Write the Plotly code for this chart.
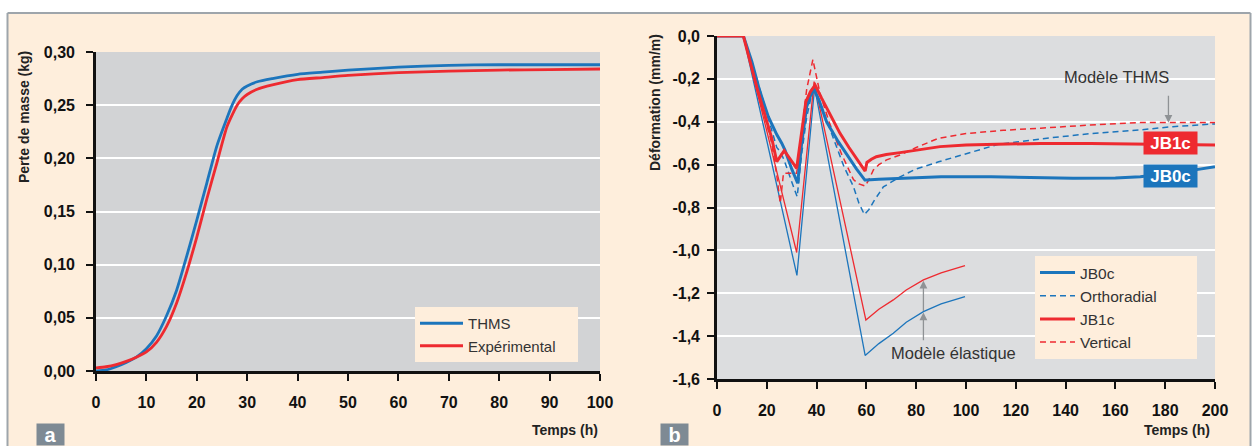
import plotly.graph_objects as go

# ---------------- Panel a data ----------------
a_time_thms = [0, 2, 4, 6, 8, 10, 12, 14, 16, 18, 20, 22, 24, 26, 27, 28, 29, 30, 32, 35, 40, 45, 50, 60, 70, 80, 90, 100]
a_thms = [0.000, 0.001, 0.004, 0.008, 0.013, 0.021, 0.033, 0.052, 0.076, 0.108, 0.142, 0.177, 0.212, 0.238, 0.250, 0.259, 0.265, 0.268, 0.272, 0.275, 0.279, 0.281, 0.283, 0.2857, 0.2875, 0.288, 0.288, 0.288]
a_time_exp = [0, 2, 4, 6, 8, 10, 12, 14, 16, 18, 20, 22, 24, 26, 28, 29, 30, 32, 35, 40, 45, 50, 60, 70, 80, 90, 100]
a_exp = [0.003, 0.004, 0.006, 0.009, 0.013, 0.018, 0.027, 0.042, 0.064, 0.093, 0.126, 0.162, 0.196, 0.230, 0.250, 0.256, 0.260, 0.265, 0.269, 0.274, 0.276, 0.278, 0.2806, 0.282, 0.283, 0.2835, 0.284]

a_xticks = [0, 10, 20, 30, 40, 50, 60, 70, 80, 90, 100]
a_xticktext = ["0", "10", "20", "30", "40", "50", "60", "70", "80", "90", "100"]
a_yticks = [0.00, 0.05, 0.10, 0.15, 0.20, 0.25, 0.30]
a_yticktext = ["0,00", "0,05", "0,10", "0,15", "0,20", "0,25", "0,30"]

# ---------------- Panel b data ----------------
b_t_jb0c = [0, 10.6, 14, 17, 20.6, 24, 26, 27.3, 30, 32.4, 34, 36, 37.5, 39, 41, 44, 48.7, 52, 56, 59.4, 60, 65, 73.5, 90, 110, 130, 143, 160, 170, 180, 190, 200]
b_jb0c = [0, 0, -0.12, -0.25, -0.376, -0.46, -0.50, -0.532, -0.62, -0.687, -0.50, -0.33, -0.28, -0.25, -0.30, -0.40, -0.493, -0.55, -0.62, -0.672, -0.672, -0.668, -0.664, -0.656, -0.657, -0.660, -0.664, -0.662, -0.656, -0.642, -0.628, -0.61]

b_t_jb1c = [0, 10.6, 16, 22, 24, 27, 32, 34, 35.7, 37.5, 39.4, 42, 46, 49.4, 53, 56, 58.8, 59.5, 60.2, 62, 64, 68, 73.5, 80, 89.6, 100, 115, 130, 150, 172, 190, 200]
b_jb1c = [0, 0, -0.24, -0.477, -0.586, -0.535, -0.617, -0.438, -0.306, -0.26, -0.229, -0.29, -0.38, -0.454, -0.52, -0.57, -0.617, -0.63, -0.59, -0.575, -0.563, -0.553, -0.544, -0.532, -0.516, -0.508, -0.503, -0.501, -0.502, -0.504, -0.508, -0.508]

b_t_ortho = [0, 10.6, 16, 22, 24, 25.5, 27, 30, 32.2, 34, 36, 38.8, 41, 44.7, 48, 51, 54.7, 57, 59.2, 61, 63, 66.8, 73.5, 80, 89, 100, 113, 130, 150, 170, 183, 200]
b_ortho = [0, 0, -0.2, -0.44, -0.52, -0.54, -0.58, -0.68, -0.75, -0.55, -0.38, -0.23, -0.30, -0.41, -0.52, -0.61, -0.70, -0.78, -0.833, -0.81, -0.77, -0.704, -0.657, -0.62, -0.587, -0.55, -0.505, -0.48, -0.455, -0.438, -0.423, -0.41]

b_t_vert = [0, 10.6, 16, 22, 24, 25.4, 26.7, 29, 32, 34, 36, 38.5, 41.4, 45, 50, 54.8, 57, 59.5, 61, 62.8, 65, 68.1, 73.5, 80, 89, 100, 115, 130, 150, 170, 185, 200]
b_vert = [0, 0, -0.24, -0.5, -0.65, -0.78, -0.64, -0.64, -0.64, -0.45, -0.25, -0.11, -0.27, -0.40, -0.55, -0.67, -0.69, -0.70, -0.67, -0.625, -0.60, -0.578, -0.555, -0.52, -0.477, -0.455, -0.44, -0.43, -0.415, -0.404, -0.404, -0.404]

b_t_el0 = [0, 10.6, 32.1, 39.2, 59.5, 65, 70.8, 76, 82.9, 90, 99.6]
b_el0 = [0, 0, -1.117, -0.24, -1.49, -1.435, -1.387, -1.335, -1.286, -1.25, -1.216]
b_t_el1 = [0, 10.6, 32, 39, 59.8, 65, 70.8, 76, 82.9, 90, 99.6]
b_el1 = [0, 0, -1.01, -0.213, -1.325, -1.275, -1.231, -1.185, -1.138, -1.105, -1.071]

b_xticks = [0, 20, 40, 60, 80, 100, 120, 140, 160, 180, 200]
b_xticktext = ["0", "20", "40", "60", "80", "100", "120", "140", "160", "180", "200"]
b_yticks = [0.0, -0.2, -0.4, -0.6, -0.8, -1.0, -1.2, -1.4, -1.6]
b_yticktext = ["0,0", "-0,2", "-0,4", "-0,6", "-0,8", "-1,0", "-1,2", "-1,4", "-1,6"]

# ---------------- Styles ----------------
W, H = 1254, 446
BLUE = "#1C75BC"
RED = "#EE2A30"
PEACH = "#FEEEDC"
GRAY_A = "#D2D3D5"
GRAY_B = "#DCDDDF"
BORDER = "#9EA5AB"
FONT = "Liberation Sans"
TXT = "#333333"
NB = "\u00a0"

def px(x):
    return x / W

def py(y):
    return (H - y) / H

fig = go.Figure()

# Panel a traces
fig.add_trace(go.Scatter(x=a_time_thms, y=a_thms, mode="lines", name="THMS",
                         line=dict(color=BLUE, width=2.8, shape="spline", smoothing=0.6),
                         xaxis="x", yaxis="y", legend="legend"))
fig.add_trace(go.Scatter(x=a_time_exp, y=a_exp, mode="lines", name="Expérimental" + NB * 4,
                         line=dict(color=RED, width=2.8, shape="spline", smoothing=0.6),
                         xaxis="x", yaxis="y", legend="legend"))

# Panel b traces
fig.add_trace(go.Scatter(x=b_t_el0, y=b_el0, mode="lines", showlegend=False,
                         line=dict(color=BLUE, width=1.3), xaxis="x2", yaxis="y2"))
fig.add_trace(go.Scatter(x=b_t_el1, y=b_el1, mode="lines", showlegend=False,
                         line=dict(color=RED, width=1.3), xaxis="x2", yaxis="y2"))
fig.add_trace(go.Scatter(x=b_t_ortho, y=b_ortho, mode="lines", name="Orthoradial" + NB * 8, legendrank=2,
                         line=dict(color=BLUE, width=1.5, dash="6px,4px"), xaxis="x2", yaxis="y2", legend="legend2"))
fig.add_trace(go.Scatter(x=b_t_vert, y=b_vert, mode="lines", name="Vertical", legendrank=4,
                         line=dict(color=RED, width=1.5, dash="6px,4px"), xaxis="x2", yaxis="y2", legend="legend2"))
fig.add_trace(go.Scatter(x=b_t_jb0c, y=b_jb0c, mode="lines", name="JB0c", legendrank=1,
                         line=dict(color=BLUE, width=3), xaxis="x2", yaxis="y2", legend="legend2"))
fig.add_trace(go.Scatter(x=b_t_jb1c, y=b_jb1c, mode="lines", name="JB1c", legendrank=3,
                         line=dict(color=RED, width=3), xaxis="x2", yaxis="y2", legend="legend2"))

tickfont = dict(family=FONT, size=16, color="#111111", weight="bold")
common_axis = dict(showline=True, linecolor="#111111", linewidth=2.6, ticks="outside",
                   tickcolor="#111111", tickwidth=2, ticklen=7, tickfont=tickfont,
                   gridcolor="#FFFFFF", gridwidth=1.5, zeroline=False, tickmode="array",
                   automargin=False)

fig.update_layout(
    width=W, height=H,
    margin=dict(l=0, r=0, t=0, b=0, pad=0, autoexpand=False),
    paper_bgcolor=PEACH,
    plot_bgcolor="rgba(0,0,0,0)",
    xaxis=dict(domain=[px(96), px(600)], range=[0, 100], tickvals=a_xticks, ticktext=a_xticktext,
               showgrid=False, anchor="y", ticklabelstandoff=8, **common_axis),
    yaxis=dict(domain=[py(371), py(52)], range=[0, 0.30], tickvals=a_yticks, ticktext=a_yticktext,
               showgrid=True, anchor="x", ticklabelstandoff=8, **common_axis),
    xaxis2=dict(domain=[px(717), px(1215)], range=[0, 200], tickvals=b_xticks, ticktext=b_xticktext,
                showgrid=False, anchor="y2", ticklabelstandoff=8, **common_axis),
    yaxis2=dict(domain=[py(379), py(36)], range=[-1.6, 0], tickvals=b_yticks, ticktext=b_yticktext,
                showgrid=True, anchor="x2", ticklabelstandoff=4, **common_axis),
    legend=dict(x=px(415), y=py(307), xanchor="left", yanchor="top", bgcolor=PEACH,
                font=dict(family=FONT, size=15, color=TXT), itemwidth=43, borderwidth=0,
                tracegroupgap=0),
    legend2=dict(x=px(1035), y=py(256), xanchor="left", yanchor="top", bgcolor=PEACH,
                 font=dict(family=FONT, size=15.5, color=TXT), itemwidth=35, borderwidth=0,
                 traceorder="normal"),
    showlegend=True,
)

shapes = [
    # white band and side strips outside the peach frame
    dict(type="rect", xref="paper", yref="paper", x0=0, x1=1, y0=py(13), y1=1.01,
         fillcolor="white", line=dict(width=0), layer="below"),
    dict(type="rect", xref="paper", yref="paper", x0=-0.01, x1=px(7), y0=-0.01, y1=1.01,
         fillcolor="white", line=dict(width=0), layer="below"),
    dict(type="rect", xref="paper", yref="paper", x0=px(1251), x1=1.01, y0=-0.01, y1=1.01,
         fillcolor="white", line=dict(width=0), layer="below"),
    # frame border
    dict(type="line", xref="paper", yref="paper", x0=px(7.5), x1=px(1250.5), y0=py(13), y1=py(13),
         line=dict(color=BORDER, width=2), layer="below"),
    dict(type="line", xref="paper", yref="paper", x0=px(7.5), x1=px(7.5), y0=-0.01, y1=py(13),
         line=dict(color=BORDER, width=2), layer="below"),
    dict(type="line", xref="paper", yref="paper", x0=px(1250.5), x1=px(1250.5), y0=-0.01, y1=py(13),
         line=dict(color=BORDER, width=2), layer="below"),
    # plot backgrounds
    dict(type="rect", xref="x domain", yref="y domain", x0=0, x1=1, y0=0, y1=1,
         fillcolor=GRAY_A, line=dict(width=0), layer="below"),
    dict(type="rect", xref="x2 domain", yref="y2 domain", x0=0, x1=1, y0=0, y1=1,
         fillcolor=GRAY_B, line=dict(width=0), layer="below"),
]
fig.update_layout(shapes=shapes)

ann = []
title_font = dict(family=FONT, size=14, color="#222222", weight="bold")
ann.append(dict(text="Perte de masse (kg)", xref="paper", yref="paper", x=px(24), y=py(117),
                textangle=-90, showarrow=False, font=title_font, xanchor="center", yanchor="middle"))
ann.append(dict(text="Déformation (mm/m)", xref="paper", yref="paper", x=px(655), y=py(103),
                textangle=-90, showarrow=False, font=title_font, xanchor="center", yanchor="middle"))
ann.append(dict(text="Temps (h)", xref="paper", yref="paper", x=px(600), y=py(430),
                showarrow=False, font=title_font, xanchor="right", yanchor="middle"))
ann.append(dict(text="Temps (h)", xref="paper", yref="paper", x=px(1212), y=py(430),
                showarrow=False, font=title_font, xanchor="right", yanchor="middle"))

# panel letters
for letter, x0 in (("a", 36), ("b", 660)):
    ann.append(dict(text=letter, xref="paper", yref="paper", x=px(x0), y=0,
                    xanchor="left", yanchor="bottom", showarrow=False, bgcolor="#7E8A94",
                    width=27, height=21, borderpad=0,
                    font=dict(family=FONT, size=20, color="white", weight="bold")))

ann_font = dict(family=FONT, size=16.5, color=TXT)
ann.append(dict(text="Modèle THMS", xref="x2", yref="y2", x=160.4, y=-0.193, showarrow=False,
                font=ann_font, xanchor="center", yanchor="middle"))
ann.append(dict(text="", xref="x2", yref="y2", x=181.3, y=-0.405, ax=181.3, ay=-0.272,
                axref="x2", ayref="y2", showarrow=True, arrowhead=2, arrowsize=1.2,
                arrowwidth=1.3, arrowcolor="#8F9295"))
ann.append(dict(text="Modèle élastique", xref="x2", yref="y2", x=94.8, y=-1.479, showarrow=False,
                font=ann_font, xanchor="center", yanchor="middle"))
ann.append(dict(text="", xref="x2", yref="y2", x=82.9, y=-1.29, ax=82.9, ay=-1.426,
                axref="x2", ayref="y2", showarrow=True, arrowhead=2, arrowsize=1.2,
                arrowwidth=1.3, arrowcolor="#8F9295"))
ann.append(dict(text="", xref="x2", yref="y2", x=82.9, y=-1.142, ax=82.9, ay=-1.29,
                axref="x2", ayref="y2", showarrow=True, arrowhead=2, arrowsize=1.2,
                arrowwidth=1.3, arrowcolor="#8F9295"))

box_font = dict(family=FONT, size=17, color="white", weight="bold")
ann.append(dict(text="JB1c", xref="x2", yref="y2", x=182.3, y=-0.499, showarrow=False,
                bgcolor=RED, font=box_font, width=51, height=20, borderpad=1))
ann.append(dict(text="JB0c", xref="x2", yref="y2", x=182.3, y=-0.653, showarrow=False,
                bgcolor=BLUE, font=box_font, width=51, height=20, borderpad=1))

fig.update_layout(annotations=ann)

fig.write_html("out.html", config={"displayModeBar": False},
               post_script="document.body.style.margin='0px';")
